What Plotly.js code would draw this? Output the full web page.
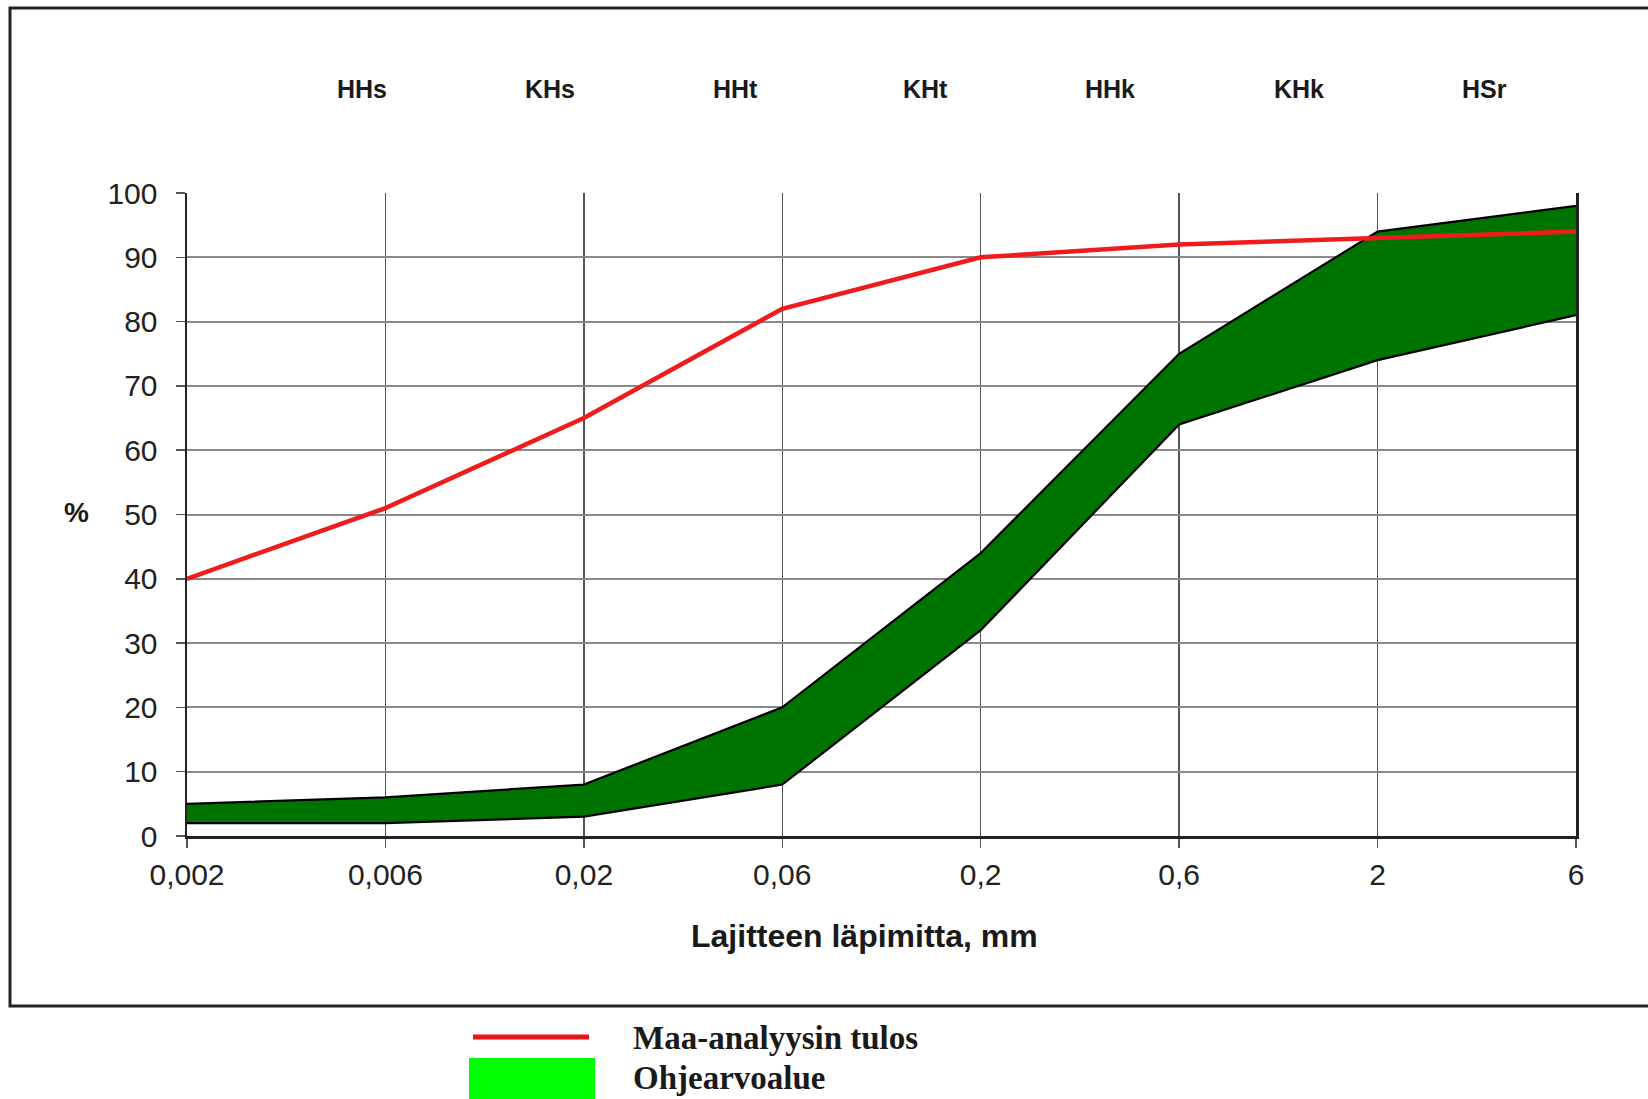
<!DOCTYPE html>
<html>
<head>
<meta charset="utf-8">
<script src="https://cdn.plot.ly/plotly-3.0.1.min.js"></script>
<style>
  html, body { margin: 0; padding: 0; background: #ffffff; }
  #chart { width: 1648px; height: 1099px; }
</style>
</head>
<body>
<div id="chart"></div>
<script>
// ---- data ----
const grainSizes = ['0,002', '0,006', '0,02', '0,06', '0,2', '0,6', '2', '6'];
const analysisResult = [40, 51, 65, 82, 90, 92, 93, 94];
const guideUpper = [5, 6, 8, 20, 44, 75, 94, 98];
const guideLower = [2, 2, 3, 8, 32, 64, 74, 81];
const fractionLabels = ['HHs', 'KHs', 'HHt', 'KHt', 'HHk', 'KHk', 'HSr'];
const legendLabels = ['Maa-analyysin tulos', 'Ohjearvoalue'];
const yTicks = [0, 10, 20, 30, 40, 50, 60, 70, 80, 90, 100];

// ---- layout helpers (pixel geometry of the page) ----
const W = 1648, H = 1099;
const PL = 187, PR = 1576, PT = 193, PB = 836;
const pw = PR - PL, ph = PB - PT;
const px = x => (x - PL) / pw;
const py = y => (PB - y) / ph;

const traces = [
  {
    x: grainSizes, y: guideLower, type: 'scatter', mode: 'lines',
    line: { color: '#000000', width: 2.2 }, showlegend: false, hoverinfo: 'skip'
  },
  {
    x: grainSizes, y: guideUpper, type: 'scatter', mode: 'lines',
    fill: 'tonexty', fillcolor: '#007400',
    line: { color: '#000000', width: 2.2 }, showlegend: false, name: legendLabels[1]
  },
  {
    x: grainSizes, y: analysisResult, type: 'scatter', mode: 'lines',
    line: { color: '#ee1c1c', width: 4.5 }, showlegend: false, name: legendLabels[0]
  }
];

const labelX = [361.5, 549.7, 735.7, 925, 1110, 1299, 1484];
const annotations = fractionLabels.map((t, i) => ({
  text: '<b>' + t + '</b>', xref: 'paper', yref: 'paper',
  x: px(labelX[i]), y: py(89), xanchor: 'center', yanchor: 'middle',
  showarrow: false, font: { family: 'Liberation Sans, Arial, sans-serif', size: 25, color: '#1a1a1a' }
}));
annotations.push({
  text: '<b>Lajitteen läpimitta, mm</b>', xref: 'paper', yref: 'paper',
  x: px(864), y: py(936), xanchor: 'center', yanchor: 'middle', showarrow: false,
  font: { family: 'Liberation Sans, Arial, sans-serif', size: 32, color: '#1a1a1a' }
});
annotations.push({
  text: '<b>%</b>', xref: 'paper', yref: 'paper',
  x: px(76), y: py(512), xanchor: 'center', yanchor: 'middle', showarrow: false,
  font: { family: 'Liberation Sans, Arial, sans-serif', size: 28, color: '#1a1a1a' }
});
annotations.push({
  text: '<b>' + legendLabels[0] + '</b>', xref: 'paper', yref: 'paper',
  x: px(631), y: py(1038), xanchor: 'left', yanchor: 'middle', showarrow: false,
  font: { family: 'Liberation Serif, Times New Roman, serif', size: 33, color: '#1a1a1a' }
});
annotations.push({
  text: '<b>' + legendLabels[1] + '</b>', xref: 'paper', yref: 'paper',
  x: px(631), y: py(1078), xanchor: 'left', yanchor: 'middle', showarrow: false,
  font: { family: 'Liberation Serif, Times New Roman, serif', size: 33, color: '#1a1a1a' }
});

const shapes = [
  { type: 'rect', xref: 'paper', yref: 'paper', layer: 'below',
    x0: px(10), x1: px(1680), y0: py(1006), y1: py(8),
    line: { color: '#222222', width: 3 }, fillcolor: 'rgba(0,0,0,0)' },
  { type: 'line', xref: 'paper', yref: 'paper',
    x0: px(473), x1: px(589), y0: py(1037), y1: py(1037),
    line: { color: '#e8141c', width: 5 } },
  { type: 'rect', xref: 'paper', yref: 'paper',
    x0: px(469), x1: px(595), y0: py(1110), y1: py(1058),
    line: { width: 0 }, fillcolor: '#00ff00' }
];

const tickFont = { family: 'Liberation Sans, Arial, sans-serif', size: 30, color: '#222222' };

const layout = {
  width: W, height: H,
  margin: { l: PL, r: W - PR, t: PT, b: H - PB, pad: 0 },
  paper_bgcolor: '#ffffff', plot_bgcolor: '#ffffff',
  showlegend: false,
  xaxis: {
    type: 'category', range: [0, grainSizes.length - 1],
    showgrid: true, gridcolor: '#555555', gridwidth: 1.5,
    showline: true, linecolor: '#222222', linewidth: 3, mirror: false,
    ticks: 'outside', ticklen: 9, tickwidth: 1.5, tickcolor: '#555555',
    ticklabelstandoff: 1,
    tickfont: tickFont, zeroline: false, fixedrange: true
  },
  yaxis: {
    range: [0, 100], tickvals: yTicks,
    showgrid: true, gridcolor: '#8a8a8a', gridwidth: 2,
    showline: true, linecolor: '#222222', linewidth: 2.5, mirror: true,
    ticks: 'outside', ticklen: 9, tickwidth: 1.5, tickcolor: '#555555',
    ticklabelstandoff: 12,
    tickfont: tickFont, zeroline: false, fixedrange: true
  },
  annotations: annotations,
  shapes: shapes
};

Plotly.newPlot('chart', traces, layout, { displayModeBar: false, staticPlot: true });
</script>
</body>
</html>
